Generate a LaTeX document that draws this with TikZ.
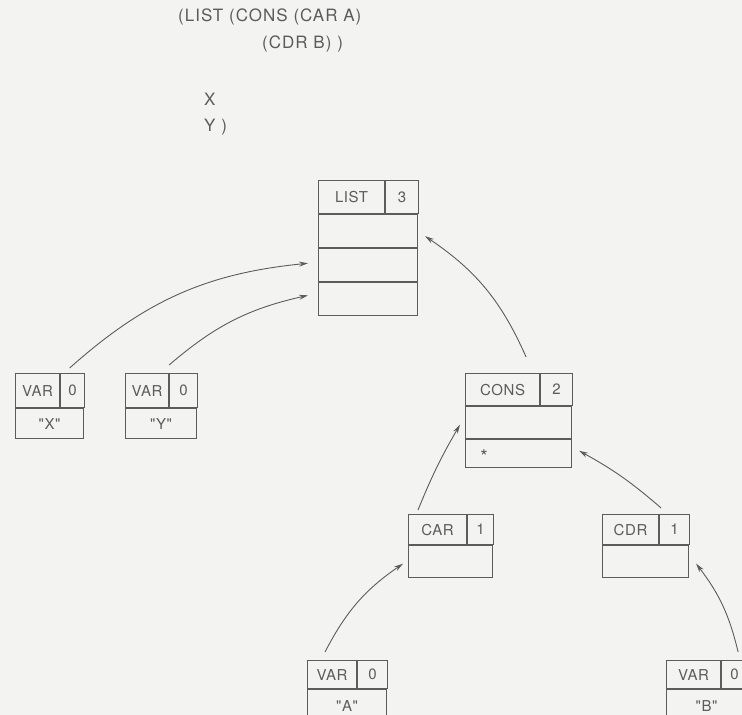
\documentclass[tikz,border=0pt]{standalone}
\usepackage{fontspec}
\usepackage{tikz}
\usetikzlibrary{arrows.meta,positioning}
\newfontfamily\heros{TeX Gyre Heros}[LetterSpace=4]
\newfontfamily\codefont{TeX Gyre Heros}[LetterSpace=6]
\definecolor{ink}{HTML}{5C5C5C}
\definecolor{paper}{HTML}{F3F3F1}

\begin{document}
\begin{tikzpicture}[x=1pt,y=-1pt,
    cell/.style 2 args={draw=ink,line width=1.1pt,inner sep=0pt,anchor=north west,
      minimum width=#1pt,minimum height=#2pt,text=ink,font=\heros\fontsize{15}{17}\selectfont},
    code/.style={anchor=base west,inner sep=0pt,text=ink,font=\codefont\fontsize{17}{19}\selectfont},
    link/.style={draw=ink,line width=0.9pt,-{Stealth[length=9pt,width=5pt]}}]
  \useasboundingbox[fill=paper] (0,0) rectangle (742,715);
  \clip (0,0) rectangle (742,715);

  % the expression
  \node[code] (ln1) at (178,21) {(LIST (CONS (CAR A)};
  \node[code] (ln2) at (262,48) {(CDR B) )};
  \node[code] (ln3) at (204,105) {X};
  \node[code] (ln4) at (204,131) {Y )};

  % LIST record
  \node[cell={66}{33}] (listhd) at (318,180) {LIST};
  \node[cell={33}{33}] (listn) at (listhd.north east) {3};
  \node[cell={99}{33}] (listA) at (listhd.south west) {};
  \node[cell={99}{33}] (listB) at (listA.south west) {};
  \node[cell={99}{33}] (listC) at (listB.south west) {};

  % VAR records
  \node[cell={44}{34}] (varxhd) at (15,373) {VAR};
  \node[cell={24}{34}] (varxn) at (varxhd.north east) {0};
  \node[cell={68}{30}] (varxA) at (varxhd.south west) {"X"};
  \node[cell={43}{34}] (varyhd) at (125,373) {VAR};
  \node[cell={28}{34}] (varyn) at (varyhd.north east) {0};
  \node[cell={71}{30}] (varyA) at (varyhd.south west) {"Y"};
  \node[cell={49}{28}] (varahd) at (307,660) {VAR};
  \node[cell={30}{28}] (varan) at (varahd.north east) {0};
  \node[cell={79}{32}] (varaA) at (varahd.south west) {"A"};
  \node[cell={54}{28}] (varbhd) at (666,660) {VAR};
  \node[cell={26}{28}] (varbn) at (varbhd.north east) {0};
  \node[cell={80}{32}] (varbA) at (varbhd.south west) {"B"};

  % CONS record
  \node[cell={74}{32}] (conshd) at (465,373) {CONS};
  \node[cell={32}{32}] (consn) at (conshd.north east) {2};
  \node[cell={106}{32}] (consA) at (conshd.south west) {};
  \node[cell={106}{28}] (consB) at (consA.south west) {};
  \node[text=ink,font=\heros\fontsize{19}{21}\selectfont,inner sep=0pt] (star) at (484,457) {*};

  % CAR / CDR records
  \node[cell={58}{30}] (carhd) at (408,514) {CAR};
  \node[cell={26}{30}] (carn) at (carhd.north east) {1};
  \node[cell={84}{32}] (carA) at (carhd.south west) {};
  \node[cell={56}{30}] (cdrhd) at (602,514) {CDR};
  \node[cell={30}{30}] (cdrn) at (cdrhd.north east) {1};
  \node[cell={86}{32}] (cdrA) at (cdrhd.south west) {};

  % links
  \draw[link] ([xshift=-3pt,yshift=5pt]varxn.north) to[bend left=18] ([xshift=-10pt,yshift=2pt]listB.west);
  \draw[link] ([yshift=8pt]varyhd.north east) to[bend left=14] ([xshift=-10pt,yshift=4pt]listC.west);
  \draw[link] ([xshift=-14pt,yshift=16pt]conshd.north east) to[bend right=16] ([xshift=7pt,yshift=-5pt]listA.east);
  \draw[link] ([xshift=10pt,yshift=4pt]carhd.north west) to[bend left=4] ([xshift=-5pt,yshift=-2pt]consA.west);
  \draw[link] ([xshift=2pt,yshift=6pt]cdrhd.north east) to[bend right=6] ([xshift=7pt,yshift=3pt]consB.east);
  \draw[link] ([xshift=18pt,yshift=8pt]varahd.north west) to[bend left=14] ([xshift=-5pt,yshift=-2pt]carA.west);
  \draw[link] ([xshift=17pt,yshift=8pt]varbn.north west) to[bend right=12] ([xshift=7pt,yshift=-2pt]cdrA.east);
\end{tikzpicture}
\end{document}
